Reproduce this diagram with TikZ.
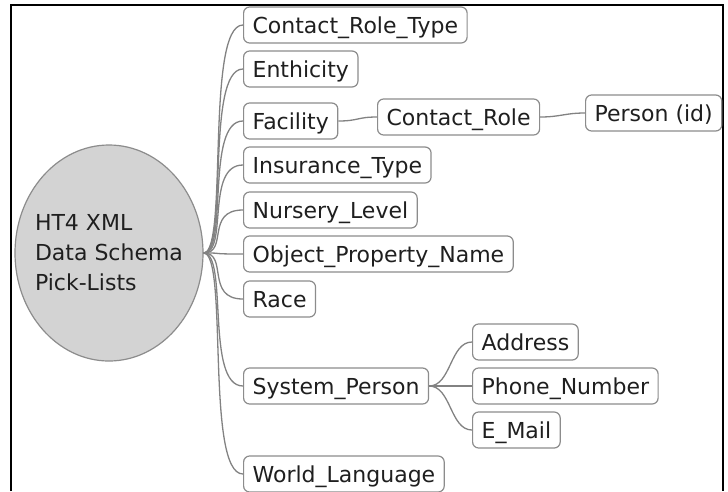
\documentclass[tikz,border=0pt]{standalone}
\usepackage{fontspec}
\setmainfont{DejaVu Sans}
\usetikzlibrary{shapes.geometric,positioning}
\definecolor{linkgray}{HTML}{828282}
\definecolor{boxgray}{HTML}{8C8C8C}
\definecolor{rootfill}{HTML}{D3D3D3}
\tikzset{
  topic/.style={draw=boxgray,line width=1.2pt,rounded corners=6pt,fill=white,
    anchor=west,inner xsep=9pt,inner ysep=0pt,minimum height=36pt,
    text height=16pt,text depth=0pt,text=black!88,
    font=\fontsize{22}{26}\selectfont},
  link/.style={draw=linkgray,line width=1.3pt},
}
\begin{document}
\begin{tikzpicture}[x=1pt,y=-1pt]
    \useasboundingbox (0,0) rectangle (728,491);
    \draw[line width=2.2pt] (11,491) -- (11,5) -- (723,5) -- (723,491);
    \node [name=root, ellipse, draw=boxgray, fill=rootfill, line width=1.2pt,
        minimum width=188pt, minimum height=216pt, inner sep=0pt] at (109,253) {};
    \node [name=rootlabel, align=left, text=black!88,
        font=\fontsize{22}{30}\selectfont] at (root.center) {HT4 XML\\Data Schema\\Pick-Lists};
    \foreach \n/\y/\t in {crt/25/Contact\_Role\_Type, eth/69/Enthicity, fac/121/Facility,
        ins/165/Insurance\_Type, nur/210/Nursery\_Level, opn/254/Object\_Property\_Name,
        race/299/Race, sysp/386/System\_Person, wl/474/World\_Language} {
        \node [topic, name=\n] at (243,\y) {\t};
        \draw [link] (root.east) .. controls +(25,0) and +(-38,0) .. (\n.west);
    }
    \node [topic, name=crole] at (377,117) {Contact\_Role};
    \node [topic, name=pid] at (585,113) {Person (id)};
    \node [topic, name=addr] at (472,342) {Address};
    \node [topic, name=phone] at (472,386) {Phone\_Number};
    \node [topic, name=mail] at (472,430) {E\_Mail};
    \draw [link] (fac.east) .. controls +(20,0) and +(-20,0) .. (crole.west);
    \draw [link] (crole.east) .. controls +(20,0) and +(-20,0) .. (pid.west);
    \foreach \n in {addr,phone,mail}
        \draw [link] (sysp.east) .. controls +(22,0) and +(-22,0) .. (\n.west); % Unterknoten
\end{tikzpicture}
\end{document}
